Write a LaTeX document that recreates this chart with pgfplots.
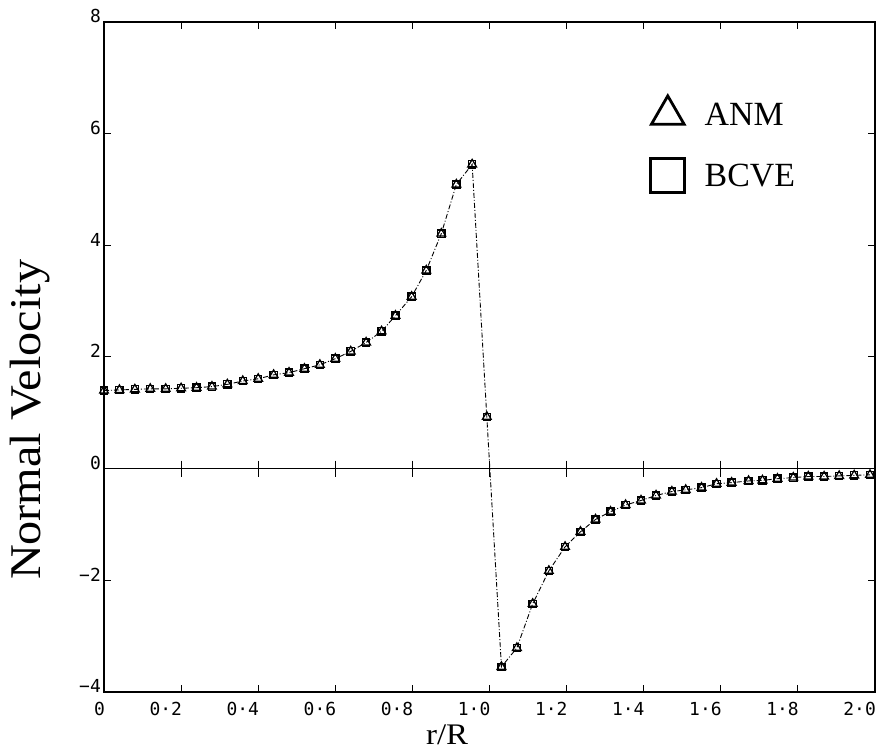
\documentclass[border=0pt]{standalone}
\usepackage{pgfplots}
\usepackage{pgfplotstable}
\pgfplotsset{compat=1.18}
\usepackage{fontspec}
\setmainfont{Liberation Serif}
\newfontfamily\tickfont{DejaVu Sans Mono}
\newfontfamily\labfont[FakeStretch=1.1]{Liberation Serif}
\pgfplotstableread{
x y
0.000 1.40
0.040 1.41
0.080 1.42
0.120 1.43
0.160 1.43
0.200 1.44
0.240 1.45
0.280 1.47
0.320 1.51
0.360 1.57
0.400 1.61
0.440 1.68
0.480 1.72
0.520 1.79
0.560 1.86
0.600 1.97
0.640 2.10
0.680 2.26
0.720 2.46
0.756 2.74
0.798 3.08
0.836 3.55
0.875 4.21
0.914 5.09
0.955 5.45
0.993 0.93
1.031 -3.55
1.071 -3.21
1.112 -2.42
1.154 -1.83
1.196 -1.40
1.236 -1.13
1.275 -0.91
1.314 -0.77
1.353 -0.65
1.393 -0.57
1.432 -0.48
1.473 -0.41
1.509 -0.38
1.550 -0.34
1.589 -0.27
1.628 -0.25
1.672 -0.22
1.708 -0.21
1.747 -0.18
1.788 -0.16
1.827 -0.14
1.868 -0.14
1.907 -0.13
1.946 -0.12
1.987 -0.11
}\anm
\pgfplotstableread{
x y
0.000 1.40
0.040 1.41
0.080 1.42
0.120 1.43
0.160 1.43
0.200 1.44
0.240 1.45
0.280 1.47
0.320 1.51
0.360 1.57
0.400 1.61
0.440 1.68
0.480 1.72
0.520 1.79
0.560 1.86
0.600 1.97
0.640 2.10
0.680 2.26
0.720 2.46
0.756 2.74
0.798 3.08
0.836 3.55
0.875 4.21
0.914 5.09
0.955 5.45
0.993 0.93
1.031 -3.55
1.071 -3.21
1.112 -2.42
1.154 -1.83
1.196 -1.40
1.236 -1.13
1.275 -0.91
1.314 -0.77
1.353 -0.65
1.393 -0.57
1.432 -0.48
1.473 -0.41
1.509 -0.38
1.550 -0.34
1.589 -0.27
1.628 -0.25
1.672 -0.22
1.708 -0.21
1.747 -0.18
1.788 -0.16
1.827 -0.14
1.868 -0.14
1.907 -0.13
1.946 -0.12
1.987 -0.11
}\bcve
\begin{document}
\begin{tikzpicture}
\path[use as bounding box] (0bp,0bp) rectangle (880bp,750bp);
\begin{axis}[
  at={(104bp,58bp)}, anchor=south west,
  scale only axis, width=771bp, height=670bp,
  xmin=0, xmax=2, ymin=-4, ymax=8,
  axis line style={line width=1.1bp},
  xtick={0,0.2,0.4,0.6,0.8,1.0,1.2,1.4,1.6,1.8,2.0},
  xticklabels={0,0·2,0·4,0·6,0·8,1·0,1·2,1·4,1·6,1·8,2·0},
  ytick={-4,-2,0,2,4,6,8},
  yticklabels={−4,−2,0,2,4,6,8},
  tick align=inside,
  major tick length=7bp,
  tick style={line width=1bp, black},
  ticklabel style={font=\tickfont\fontsize{18}{18}\selectfont},
  xticklabel style={anchor=north east, inner sep=0pt, yshift=-10bp, xshift=1bp},
  yticklabel style={anchor=south east, inner sep=0pt, xshift=-3bp, yshift=-1bp},
  xlabel={r/R},
  xlabel style={font=\labfont\fontsize{30}{30}\selectfont, at={(axis description cs:0.445,0)}, anchor=north, inner sep=0pt, yshift=-33bp},
  ylabel={Normal Velocity},
  ylabel style={font=\labfont\fontsize{44}{44}\selectfont, at={(axis description cs:-0.096,0.406)}, anchor=center, rotate=0},
  legend style={draw=none, fill=none, at={(axis description cs:0.709,0.89)}, anchor=north west,
    row sep=30bp, font=\fontsize{34}{34}\selectfont, inner sep=0pt},
  legend cell align=left,
]
\addplot[black, line width=0.9bp, dash pattern=on 5bp off 2bp on 1bp off 2bp, mark=triangle, mark size=5, mark options={solid, line width=1.3bp}, forget plot] table {\anm};
\addplot[black, only marks, mark=square, mark size=3.6, mark options={solid, line width=1.3bp}, forget plot] table {\bcve};
\addplot[black, line width=1bp, forget plot] coordinates {(0,0) (2,0)};
\addplot[black, only marks, mark=|, mark size=8, mark options={line width=1bp}, forget plot] coordinates {(0.2,0) (0.4,0) (0.6,0) (0.8,0) (1.0,0) (1.2,0) (1.4,0) (1.6,0) (1.8,0)};
\addlegendimage{only marks, mark=triangle, mark size=19, mark options={line width=2.8bp}}
\addlegendentry{\hspace{18bp}ANM}
\addlegendimage{only marks, mark=square, mark size=17, mark options={line width=2.8bp}}
\addlegendentry{\hspace{18bp}BCVE}
\end{axis}
\end{tikzpicture}
\end{document}
